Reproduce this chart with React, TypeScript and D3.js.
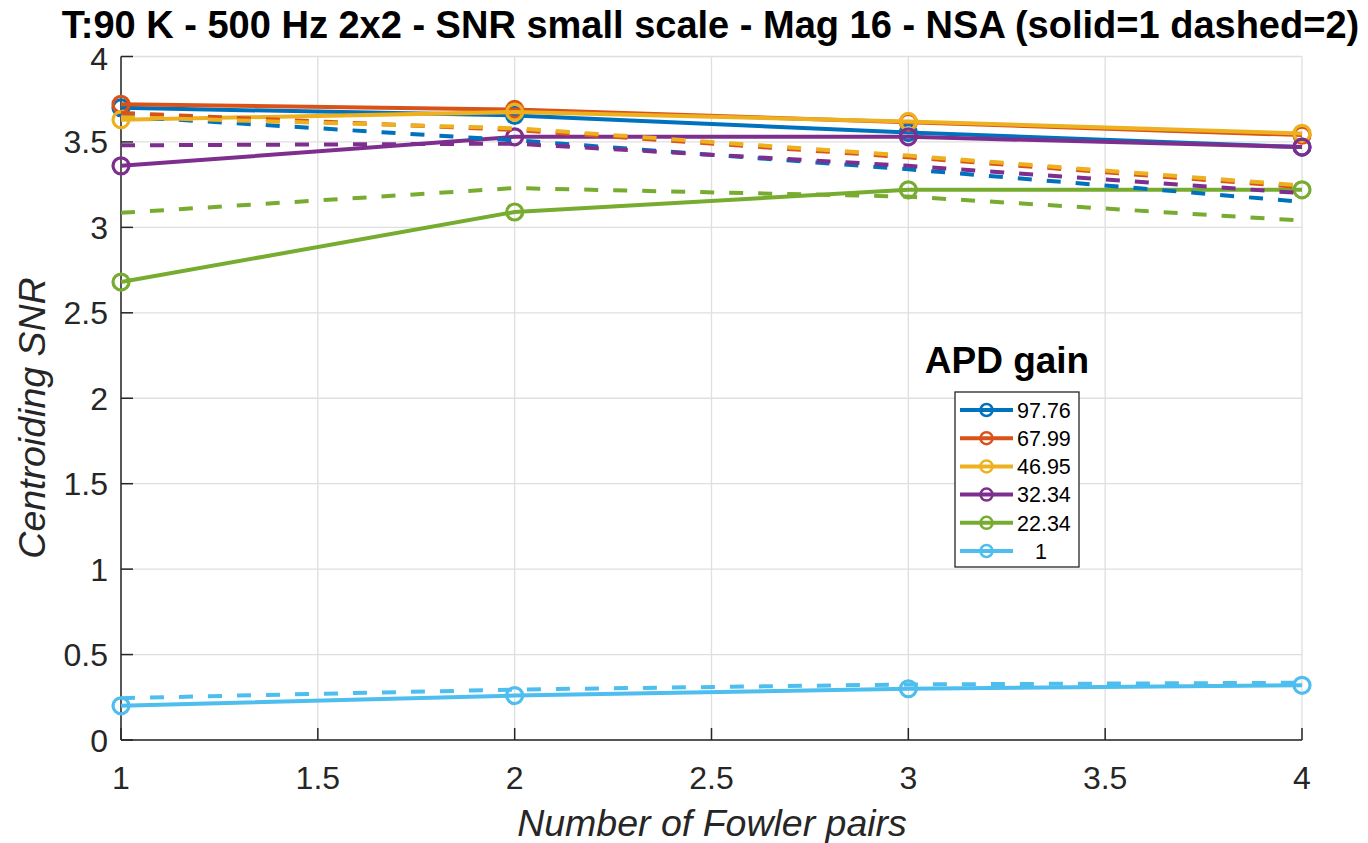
import React from "react";
import * as d3 from "d3";

const fowlerPairs = [1, 2, 3, 4];
const gains = ["97.76", "67.99", "46.95", "32.34", "22.34", "1"];
const colors = ["#0072BD", "#D95319", "#EDB120", "#7E2F8E", "#77AC30", "#4DBEEE"];

// NSA = 1 (solid lines)
const nsa1_9776 = [3.70, 3.655, 3.555, 3.47];
const nsa1_6799 = [3.72, 3.69, 3.615, 3.54];
const nsa1_4695 = [3.63, 3.675, 3.62, 3.55];
const nsa1_3234 = [3.36, 3.53, 3.53, 3.47];
const nsa1_2234 = [2.68, 3.09, 3.22, 3.22];
const nsa1_1 = [0.2, 0.26, 0.3, 0.32];

// NSA = 2 (dashed lines)
const nsa2_9776 = [3.65, 3.51, 3.34, 3.15];
const nsa2_6799 = [3.67, 3.57, 3.41, 3.235];
const nsa2_4695 = [3.645, 3.58, 3.42, 3.245];
const nsa2_3234 = [3.48, 3.49, 3.36, 3.2];
const nsa2_2234 = [3.085, 3.23, 3.18, 3.04];
const nsa2_1 = [0.245, 0.295, 0.325, 0.335];

const solidSeries = [nsa1_9776, nsa1_6799, nsa1_4695, nsa1_3234, nsa1_2234, nsa1_1];
const dashedSeries = [nsa2_9776, nsa2_6799, nsa2_4695, nsa2_3234, nsa2_2234, nsa2_1];

const xTicks = [1, 1.5, 2, 2.5, 3, 3.5, 4];
const yTicks = [0, 0.5, 1, 1.5, 2, 2.5, 3, 3.5, 4];

const titleText = "T:90 K - 500 Hz 2x2 - SNR small scale - Mag 16 - NSA (solid=1 dashed=2)";
const xLabel = "Number of Fowler pairs";
const yLabel = "Centroiding SNR";
const legendTitle = "APD gain";

const FONT = "'Liberation Sans', Arial, Helvetica, sans-serif";

export default function App() {
  const W = 1368;
  const H = 843;
  const left = 121, right = 1302, top = 56.5, bottom = 740;
  const x = d3.scaleLinear().domain([1, 4]).range([left, right]);
  const y = d3.scaleLinear().domain([0, 4]).range([bottom, top]);
  const line = d3
    .line<number>()
    .x((_, i) => x(fowlerPairs[i]))
    .y((d) => y(d));
  const axisColor = "#262626";
  const gridColor = "#DFDFDF";
  const lw = 4;

  const legX0 = 955, legX1 = 1079, legY0 = 392, legY1 = 567;
  const legRowY = (i: number) => 410 + i * 28.2;

  return (
    <svg
      width={W}
      height={H}
      style={{ position: "absolute", left: 0, top: 0, background: "#fff" }}
      fontFamily={FONT}
    >
      <rect x={0} y={0} width={W} height={H} fill="#fff" />
      {/* grid */}
      {xTicks.map((t) => (
        <line key={"gx" + t} x1={x(t)} x2={x(t)} y1={top} y2={bottom} stroke={gridColor} strokeWidth={1.3} />
      ))}
      {yTicks.map((t) => (
        <line key={"gy" + t} x1={left} x2={right} y1={y(t)} y2={y(t)} stroke={gridColor} strokeWidth={1.3} />
      ))}
      {/* axes */}
      <line x1={left} x2={left} y1={top} y2={bottom} stroke={axisColor} strokeWidth={1.5} />
      <line x1={left} x2={right} y1={bottom} y2={bottom} stroke={axisColor} strokeWidth={1.5} />
      {yTicks.map((t) => (
        <g key={"ty" + t}>
          <line x1={left} x2={left + 12} y1={y(t)} y2={y(t)} stroke={axisColor} strokeWidth={1.5} />
          <text x={108} y={y(t) + (t === 4 ? 2 : 0)} dy="0.36em" textAnchor="end" fontSize={32} fill={axisColor}>
            {String(t)}
          </text>
        </g>
      ))}
      {xTicks.map((t) => (
        <g key={"tx" + t}>
          <line x1={x(t)} x2={x(t)} y1={bottom} y2={bottom - 12} stroke={axisColor} strokeWidth={1.5} />
          <text x={x(t)} y={789} textAnchor="middle" fontSize={32} fill={axisColor}>
            {String(t)}
          </text>
        </g>
      ))}
      {/* solid series */}
      {solidSeries.map((s, i) => (
        <g key={"s" + i}>
          <path d={line(s) || ""} fill="none" stroke={colors[i]} strokeWidth={lw} strokeLinejoin="round" />
          {s.map((v, j) => (
            <circle key={j} cx={x(fowlerPairs[j])} cy={y(v)} r={8} fill="none" stroke={colors[i]} strokeWidth={3.2} />
          ))}
        </g>
      ))}
      {/* dashed series */}
      {dashedSeries.map((s, i) => (
        <path
          key={"d" + i}
          d={line(s) || ""}
          fill="none"
          stroke={colors[i]}
          strokeWidth={lw}
          strokeDasharray="14 15"
        />
      ))}
      {/* title */}
      <text x={710.5} y={38} textAnchor="middle" fontSize={38} fontWeight="bold" fill="#000">
        {titleText}
      </text>
      {/* axis labels */}
      <text x={712} y={836} textAnchor="middle" fontSize={37.5} fontStyle="italic" fill={axisColor}>
        {xLabel}
      </text>
      <text
        transform={`translate(45,${418}) rotate(-90)`}
        textAnchor="middle"
        fontSize={37.5}
        fontStyle="italic"
        fill={axisColor}
      >
        {yLabel}
      </text>
      {/* legend */}
      <text x={1007} y={373} textAnchor="middle" fontSize={37} fontWeight="bold" fill="#000">
        {legendTitle}
      </text>
      <rect x={legX0} y={legY0} width={legX1 - legX0} height={legY1 - legY0} fill="#fff" stroke={axisColor} strokeWidth={1.3} />
      {gains.map((g, i) => (
        <g key={"l" + i}>
          <line x1={960} x2={1013} y1={legRowY(i)} y2={legRowY(i)} stroke={colors[i]} strokeWidth={lw} />
          <circle cx={986.5} cy={legRowY(i)} r={6} fill="none" stroke={colors[i]} strokeWidth={2.5} />
          <text
            x={g.length < 3 ? 1035 : 1017}
            y={legRowY(i)}
            dy="0.36em"
            fontSize={21.5}
            fill="#000"
          >
            {g}
          </text>
        </g>
      ))}
    </svg>
  );
}
